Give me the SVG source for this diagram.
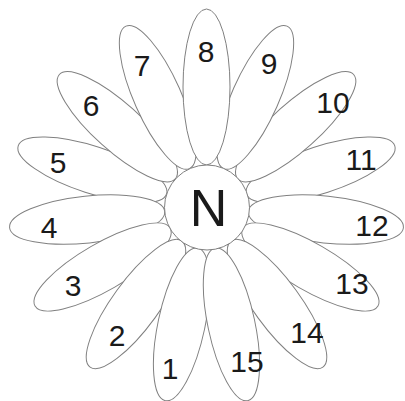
<svg xmlns="http://www.w3.org/2000/svg" width="405" height="401" viewBox="0 0 405 401">
<style>
.petal{fill:#ffffff;stroke:#808080;stroke-width:1}
.lbl{font-family:"Liberation Sans",Arial,sans-serif;font-size:30px;fill:#1a1a1a;text-anchor:middle}
.core{fill:#ffffff;stroke:#808080;stroke-width:1}
.n{font-family:"Liberation Sans",Arial,sans-serif;font-size:52px;fill:#1a1a1a;text-anchor:middle}
</style>
<defs>
<ellipse id="pe" cx="206.5" cy="87" rx="23.5" ry="78"/>
</defs>
<rect width="405" height="401" fill="#ffffff"/>
<g id="connectors"/>
<g id="petal5"><use href="#pe" class="petal" transform="rotate(-72 206.5 207)"/><text class="lbl" x="58" y="173">5</text></g>
<g id="petal11"><use href="#pe" class="petal" transform="rotate(72 206.5 207)"/><text class="lbl" x="361" y="170">11</text></g>
<g id="petal4"><use href="#pe" class="petal" transform="rotate(-96 206.5 207)"/><text class="lbl" x="49" y="238">4</text></g>
<g id="petal6"><use href="#pe" class="petal" transform="rotate(-48 206.5 207)"/><text class="lbl" x="91" y="116">6</text></g>
<g id="petal10"><use href="#pe" class="petal" transform="rotate(48 206.5 207)"/><text class="lbl" x="333" y="113">10</text></g>
<g id="petal12"><use href="#pe" class="petal" transform="rotate(96 206.5 207)"/><text class="lbl" x="372" y="236">12</text></g>
<g id="petal3"><use href="#pe" class="petal" transform="rotate(-120 206.5 207)"/><text class="lbl" x="73" y="296">3</text></g>
<g id="petal7"><use href="#pe" class="petal" transform="rotate(-24 206.5 207)"/><text class="lbl" x="142" y="76">7</text></g>
<g id="petal9"><use href="#pe" class="petal" transform="rotate(24 206.5 207)"/><text class="lbl" x="269" y="74">9</text></g>
<g id="petal13"><use href="#pe" class="petal" transform="rotate(120 206.5 207)"/><text class="lbl" x="352" y="294">13</text></g>
<g id="petal2"><use href="#pe" class="petal" transform="rotate(-144 206.5 207)"/><text class="lbl" x="117" y="346">2</text></g>
<g id="petal14"><use href="#pe" class="petal" transform="rotate(144 206.5 207)"/><text class="lbl" x="307" y="343">14</text></g>
<g id="petal1"><use href="#pe" class="petal" transform="rotate(-168 206.5 207)"/><text class="lbl" x="170" y="379">1</text></g>
<g id="petal8"><use href="#pe" class="petal"/><text class="lbl" x="206" y="62">8</text></g>
<g id="petal15"><use href="#pe" class="petal" transform="rotate(168 206.5 207)"/><text class="lbl" x="247" y="372">15</text></g>
<g id="center"><circle class="core" cx="207" cy="207.5" r="42.5"/><text class="n" x="208.5" y="226">N</text></g>
</svg>
